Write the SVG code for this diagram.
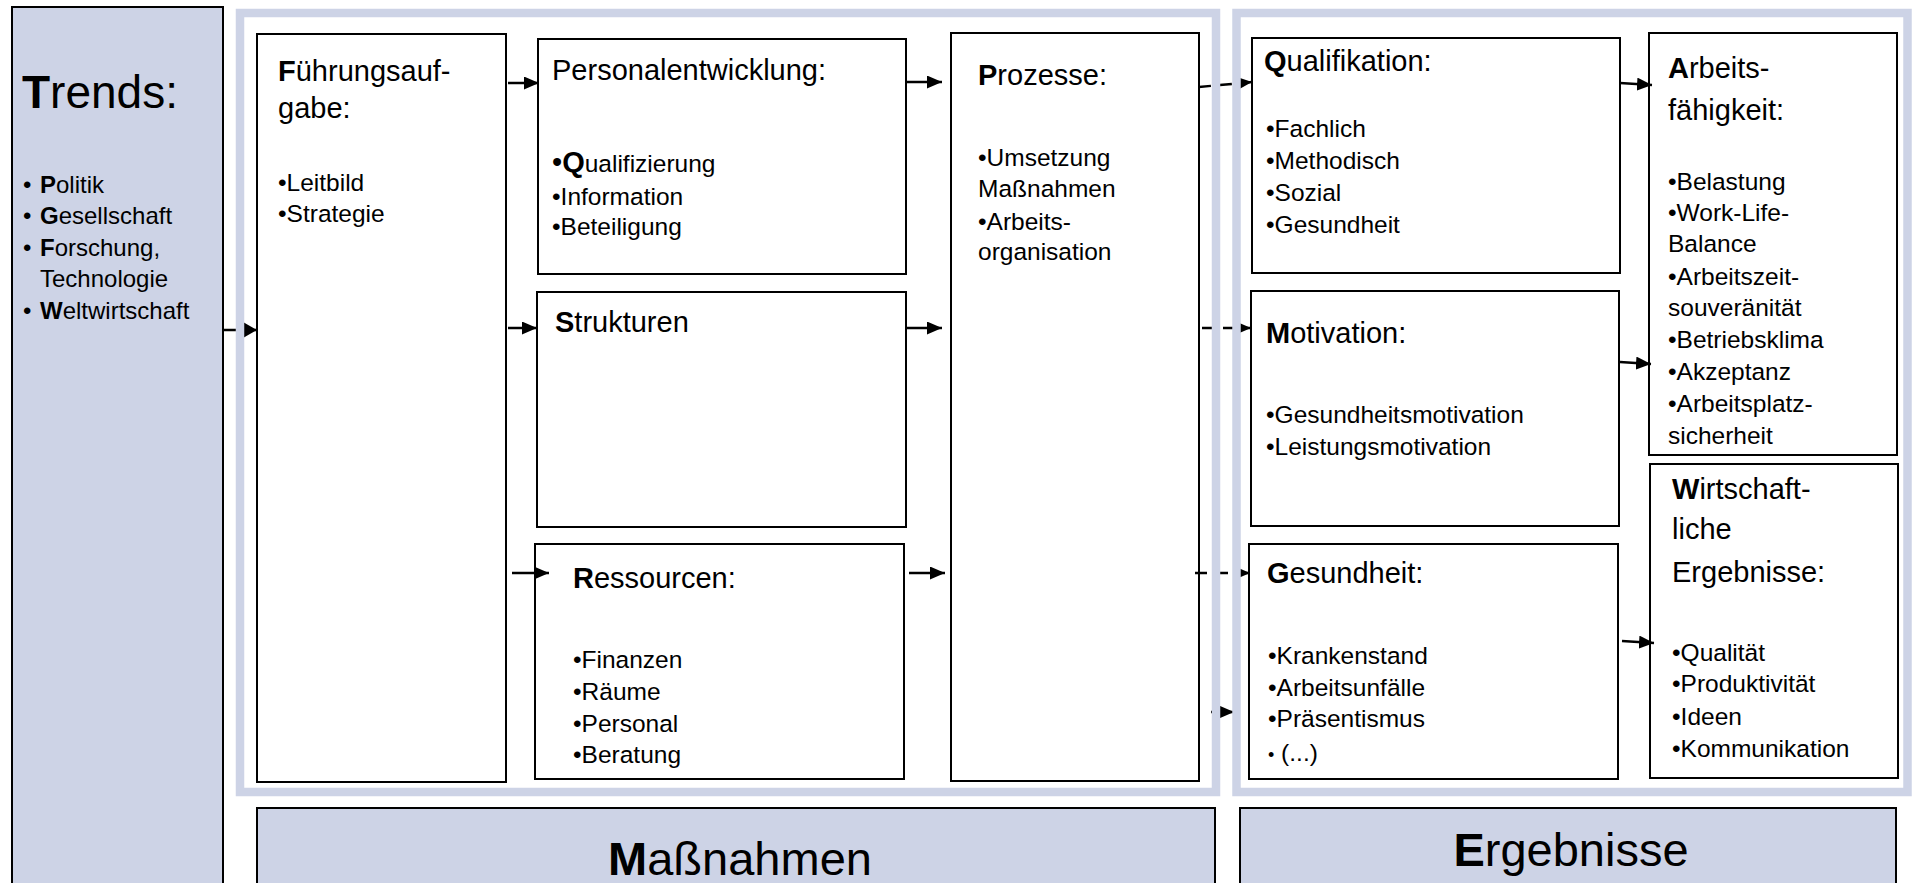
<svg xmlns="http://www.w3.org/2000/svg" width="1912" height="883" viewBox="0 0 1912 883">
<style>
.t{font-family:"Liberation Sans",Arial,sans-serif;fill:#000}
.h{font-size:29px}
.b{font-size:24.5px}
.tr{font-size:24px}
.big{font-size:47px}
.bx{fill:#fff;stroke:#000;stroke-width:2}
.blue{fill:#CDD3E6;stroke:#000;stroke-width:2}
.frame{fill:none;stroke:#CDD3E6;stroke-width:8.5}
.c{fill:none;stroke:#000;stroke-width:2.5}
.d{stroke-dasharray:12 9}
</style>
<defs>
<marker id="ah" markerUnits="userSpaceOnUse" markerWidth="16" markerHeight="14" refX="15" refY="6.5" orient="auto"><path d="M0,0 L15,6.5 L0,13 z" fill="#000"/></marker>
<marker id="ahL" markerUnits="userSpaceOnUse" markerWidth="15" markerHeight="16" refX="14" refY="8" orient="auto"><path d="M0,0 L14,8 L0,16 z" fill="#000"/></marker>
</defs>
<rect width="1912" height="883" fill="#fff"/>

<g id="trends">
<rect class="blue" x="12" y="7" width="211" height="890"/>
<text class="t" x="22" y="108" font-size="46"><tspan font-weight="bold">T</tspan>rends:</text>
<text class="t tr" x="23" y="193">•</text><text class="t tr" x="40" y="193"><tspan font-weight="bold">P</tspan>olitik</text>
<text class="t tr" x="23" y="224">•</text><text class="t tr" x="40" y="224"><tspan font-weight="bold">G</tspan>esellschaft</text>
<text class="t tr" x="23" y="256">•</text><text class="t tr" x="40" y="256"><tspan font-weight="bold">F</tspan>orschung,</text>
<text class="t tr" x="40" y="287">Technologie</text>
<text class="t tr" x="23" y="319">•</text><text class="t tr" x="40" y="319"><tspan font-weight="bold">W</tspan>eltwirtschaft</text>
</g>

<g id="fuehrungsaufgabe">
<rect class="bx" x="257" y="34" width="249" height="748"/>
<text class="t h" x="278" y="81"><tspan font-weight="bold">F</tspan>ührungsauf-</text>
<text class="t h" x="278" y="118">gabe:</text>
<text class="t b" x="278" y="191">•Leitbild</text>
<text class="t b" x="278" y="222">•Strategie</text>
</g>

<g id="personalentwicklung">
<rect class="bx" x="538" y="39" width="368" height="235"/>
<text class="t h" x="552" y="80">Personalentwicklung:</text>
<text class="t b" x="552" y="172"><tspan font-size="29">•</tspan><tspan font-size="29" font-weight="bold">Q</tspan>ualifizierung</text>
<text class="t b" x="552" y="205">•Information</text>
<text class="t b" x="552" y="235">•Beteiligung</text>
</g>

<g id="strukturen">
<rect class="bx" x="537" y="292" width="369" height="235"/>
<text class="t h" x="555" y="332"><tspan font-weight="bold">S</tspan>trukturen</text>
</g>

<g id="ressourcen">
<rect class="bx" x="535" y="544" width="369" height="235"/>
<text class="t h" x="573" y="588"><tspan font-weight="bold">R</tspan>essourcen:</text>
<text class="t b" x="573" y="668">•Finanzen</text>
<text class="t b" x="573" y="700">•Räume</text>
<text class="t b" x="573" y="732">•Personal</text>
<text class="t b" x="573" y="763">•Beratung</text>
</g>

<g id="prozesse">
<rect class="bx" x="951" y="33" width="248" height="748"/>
<text class="t h" x="978" y="85"><tspan font-weight="bold">P</tspan>rozesse:</text>
<text class="t b" x="978" y="166">•Umsetzung</text>
<text class="t b" x="978" y="197">Maßnahmen</text>
<text class="t b" x="978" y="230">•Arbeits-</text>
<text class="t b" x="978" y="260">organisation</text>
</g>

<g id="qualifikation">
<rect class="bx" x="1252" y="38" width="368" height="235"/>
<text class="t h" x="1264" y="71"><tspan font-weight="bold">Q</tspan>ualifikation:</text>
<text class="t b" x="1266" y="137">•Fachlich</text>
<text class="t b" x="1266" y="169">•Methodisch</text>
<text class="t b" x="1266" y="201">•Sozial</text>
<text class="t b" x="1266" y="233">•Gesundheit</text>
</g>

<g id="motivation">
<rect class="bx" x="1251" y="291" width="368" height="235"/>
<text class="t h" x="1266" y="343"><tspan font-weight="bold">M</tspan>otivation:</text>
<text class="t b" x="1266" y="423">•Gesundheitsmotivation</text>
<text class="t b" x="1266" y="455">•Leistungsmotivation</text>
</g>

<g id="gesundheit">
<rect class="bx" x="1249" y="544" width="369" height="235"/>
<text class="t h" x="1267" y="583"><tspan font-weight="bold">G</tspan>esundheit:</text>
<text class="t b" x="1268" y="664">•Krankenstand</text>
<text class="t b" x="1268" y="696">•Arbeitsunfälle</text>
<text class="t b" x="1268" y="727">•Präsentismus</text>
<text class="t b" x="1268" y="761"><tspan font-size="18">•</tspan> (...)</text>
</g>

<g id="arbeitsfaehigkeit">
<rect class="bx" x="1649" y="33" width="248" height="422"/>
<text class="t h" x="1668" y="78"><tspan font-weight="bold">A</tspan>rbeits-</text>
<text class="t h" x="1668" y="120">fähigkeit:</text>
<text class="t b" x="1668" y="190">•Belastung</text>
<text class="t b" x="1668" y="221">•Work-Life-</text>
<text class="t b" x="1668" y="252">Balance</text>
<text class="t b" x="1668" y="285">•Arbeitszeit-</text>
<text class="t b" x="1668" y="316">souveränität</text>
<text class="t b" x="1668" y="348">•Betriebsklima</text>
<text class="t b" x="1668" y="380">•Akzeptanz</text>
<text class="t b" x="1668" y="412">•Arbeitsplatz-</text>
<text class="t b" x="1668" y="444">sicherheit</text>
</g>

<g id="wirtschaftliche-ergebnisse">
<rect class="bx" x="1650" y="464" width="248" height="314"/>
<text class="t h" x="1672" y="499"><tspan font-weight="bold">W</tspan>irtschaft-</text>
<text class="t h" x="1672" y="539">liche</text>
<text class="t h" x="1672" y="582">Ergebnisse:</text>
<text class="t b" x="1672" y="661">•Qualität</text>
<text class="t b" x="1672" y="692">•Produktivität</text>
<text class="t b" x="1672" y="725">•Ideen</text>
<text class="t b" x="1672" y="757">•Kommunikation</text>
</g>

<g id="label-massnahmen">
<rect class="blue" x="257" y="808" width="958" height="90"/>
<text class="t big" x="740" y="875" text-anchor="middle"><tspan font-weight="bold">M</tspan>aßnahmen</text>
</g>
<g id="label-ergebnisse">
<rect class="blue" x="1240" y="808" width="656" height="90"/>
<text class="t big" x="1571" y="866" text-anchor="middle"><tspan font-weight="bold">E</tspan>rgebnisse</text>
</g>

<g id="connectors">
<path class="c" d="M223,330 H257" marker-end="url(#ahL)"/>
<path class="c" d="M508,83 H539" marker-end="url(#ah)"/>
<path class="c" d="M508,328 H537" marker-end="url(#ah)"/>
<path class="c" d="M512,573 H549" marker-end="url(#ah)"/>
<path class="c" d="M906,82 H942" marker-end="url(#ah)"/>
<path class="c" d="M906,328 H942" marker-end="url(#ah)"/>
<path class="c" d="M909,573 H945" marker-end="url(#ah)"/>
<path class="c d" d="M1199,87 L1252,82" marker-end="url(#ah)"/>
<path class="c d" d="M1202,328 H1251" marker-end="url(#ah)"/>
<path class="c d" d="M1195,573 H1250" marker-end="url(#ah)"/>
<path class="c" d="M1211,712 H1212.5"/>
<path class="c" d="M1222,712 H1234" marker-end="url(#ah)"/>
<path class="c" d="M1620,83 L1652,85" marker-end="url(#ah)"/>
<path class="c" d="M1620,362 L1651,364" marker-end="url(#ah)"/>
<path class="c" d="M1622,641 L1654,643" marker-end="url(#ah)"/>
</g>

<g id="frame-massnahmen"><rect class="frame" x="240" y="13" width="976" height="779"/></g>
<g id="frame-ergebnisse"><rect class="frame" x="1236.5" y="13" width="671" height="779"/></g>
</svg>
